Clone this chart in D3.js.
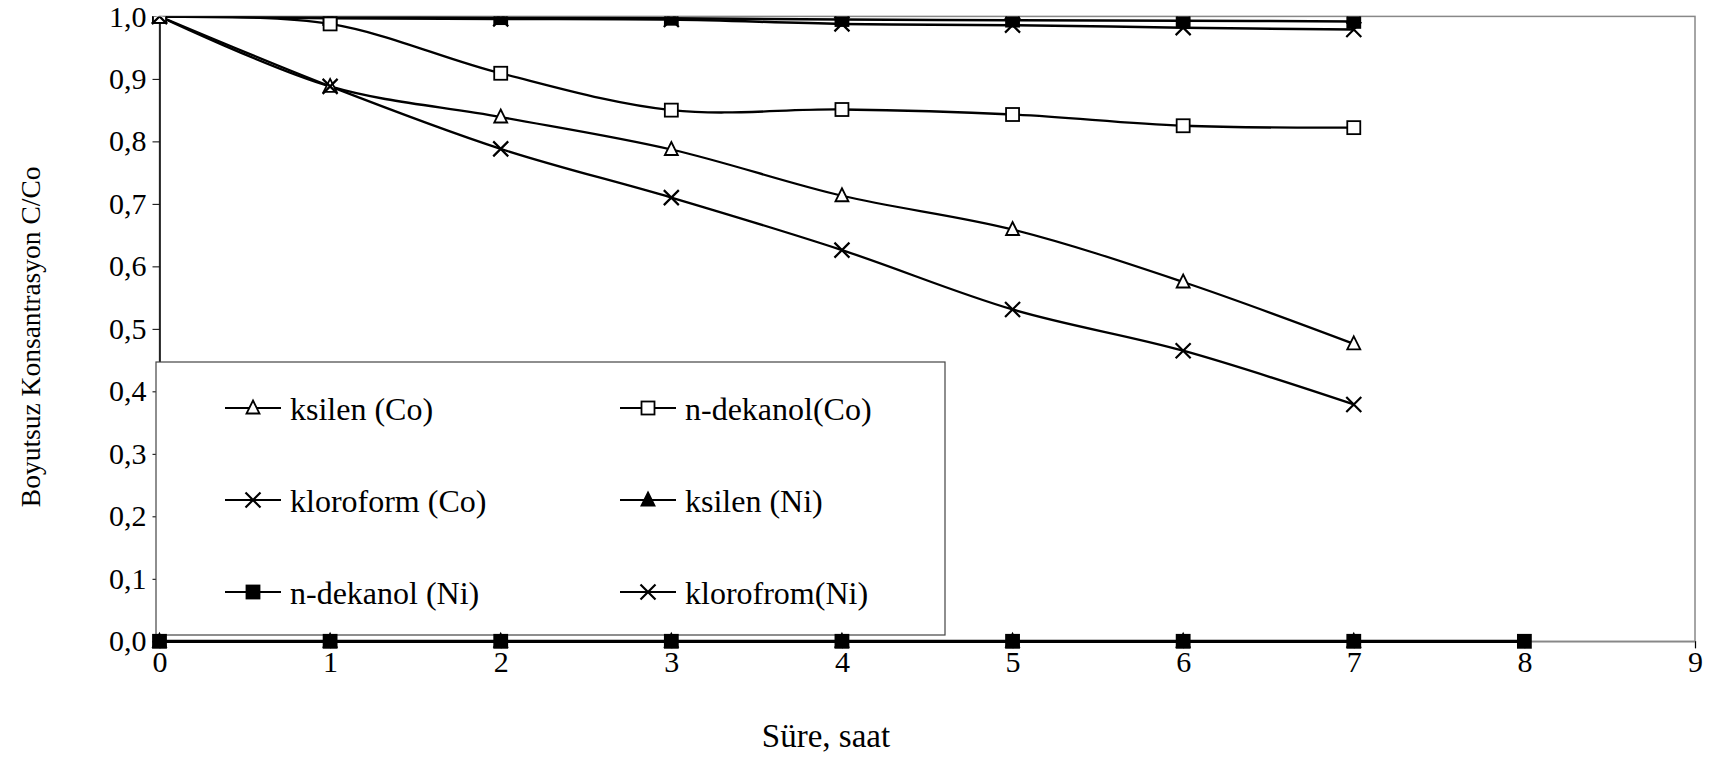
<!DOCTYPE html>
<html><head><meta charset="utf-8">
<script src="https://cdn.jsdelivr.net/npm/d3@7/dist/d3.min.js"></script>
<style>html,body{margin:0;padding:0;background:#fff}svg{display:block}text{font-family:"Liberation Serif","Times New Roman",serif;fill:#000}</style>
</head><body><svg id="c" width="1713" height="757"></svg>
<script>
const hours = [0,1,2,3,4,5,6,7];
const hoursBase = [0,1,2,3,4,5,6,7,8];
const xTicks = [0,1,2,3,4,5,6,7,8,9];
const yTicks = [0,0.1,0.2,0.3,0.4,0.5,0.6,0.7,0.8,0.9,1.0];
const ksilenCo = [1.0,0.888,0.839,0.787,0.713,0.659,0.575,0.476];
const dekanolCo = [1.0,0.988,0.909,0.850,0.851,0.843,0.825,0.822];
const kloroformCo = [1.0,0.888,0.788,0.710,0.626,0.531,0.465,0.379];
const ksilenNi = [0,0,0,0,0,0,0,0];
const dekanolNi = [1.0,0.999,0.998,0.997,0.995,0.994,0.993,0.992];
const klorofromNi = [1.0,0.997,0.996,0.995,0.988,0.986,0.982,0.979];
const baseline = [0,0,0,0,0,0,0,0,0];
const seriesNames = ["ksilen (Co)","n-dekanol(Co)","kloroform (Co)","ksilen (Ni)","n-dekanol (Ni)","klorofrom(Ni)"];

const svg = d3.select("#c");
const x = d3.scaleLinear().domain([0,9]).range([159.5,1695]);
const y = d3.scaleLinear().domain([0,1]).range([641.3,16.4]);
const fmt = d => d3.format(".1f")(d).replace(".", ",");

svg.append("defs").append("clipPath").attr("id","clipTop").append("rect")
  .attr("x",0).attr("y",y(1)).attr("width",1713).attr("height",757-y(1));

svg.append("rect").attr("x",x(0)).attr("y",y(1)).attr("width",x(9)-x(0)).attr("height",y(0)-y(1))
  .attr("fill","none").attr("stroke","#888").attr("stroke-width",1.5);

const yAxis = svg.append("g").attr("transform",`translate(${x(0)},0)`)
  .call(d3.axisLeft(y).tickValues(yTicks).tickFormat(fmt).tickSize(7).tickPadding(6));
yAxis.select(".domain").attr("stroke","#000").attr("stroke-width",1.5);
yAxis.selectAll(".tick line").attr("stroke","#000");
yAxis.selectAll("text").attr("font-size",30);
const xAxis = svg.append("g").attr("transform",`translate(0,${y(0)})`)
  .call(d3.axisBottom(x).tickValues(xTicks).tickFormat(d3.format("d")).tickSize(7).tickPadding(2));
xAxis.select(".domain").attr("stroke","#888").attr("stroke-width",1.5);
xAxis.selectAll("text").attr("font-size",30);

svg.append("text").attr("x",826).attr("y",747).attr("text-anchor","middle").attr("font-size",33).text("Süre, saat");
svg.append("text").attr("transform",`translate(40,${(y(0)+y(1))/2+8}) rotate(-90)`).attr("text-anchor","middle").attr("font-size",27.5).text("Boyutsuz Konsantrasyon C/Co");

function marker(g, type, cx, cy) {
  const s = 6.5;
  if (type === "triOpen" || type === "triFill") {
    g.append("path").attr("d",`M${cx},${cy-s-1}L${cx+s},${cy+s-1}L${cx-s},${cy+s-1}Z`)
      .attr("fill", type==="triFill"?"#000":"#fff").attr("stroke","#000").attr("stroke-width",1.8);
  } else if (type === "sqOpen" || type === "sqFill") {
    g.append("rect").attr("x",cx-s).attr("y",cy-s).attr("width",2*s).attr("height",2*s)
      .attr("fill", type==="sqFill"?"#000":"#fff").attr("stroke","#000").attr("stroke-width",1.8);
  } else if (type === "x") {
    g.append("path").attr("d",`M${cx-s-1},${cy-s-1}L${cx+s+1},${cy+s+1}M${cx+s+1},${cy-s-1}L${cx-s-1},${cy+s+1}`)
      .attr("stroke","#000").attr("stroke-width",2.2);
  }
}

const lg = svg.append("g");
lg.append("rect").attr("x",156).attr("y",362).attr("width",789).attr("height",273)
  .attr("fill","#fff").attr("stroke","#444").attr("stroke-width",1.2);
const legendItems = [
  {name:seriesNames[0], m:"triOpen", col:0, row:0},
  {name:seriesNames[1], m:"sqOpen", col:1, row:0},
  {name:seriesNames[2], m:"x", col:0, row:1},
  {name:seriesNames[3], m:"triFill", col:1, row:1},
  {name:seriesNames[4], m:"sqFill", col:0, row:2},
  {name:seriesNames[5], m:"x", col:1, row:2}
];
legendItems.forEach(it => {
  const lx = it.col===0 ? 225 : 620;
  const ly = [408,500,592][it.row];
  lg.append("line").attr("x1",lx).attr("x2",lx+56).attr("y1",ly).attr("y2",ly).attr("stroke","#000").attr("stroke-width",2);
  marker(lg, it.m, lx+28, ly);
  lg.append("text").attr("x",lx+65).attr("y",ly+11.5).attr("font-size",32).text(it.name);
});

const line = d3.line().x(d=>x(d[0])).y(d=>y(d[1])).curve(d3.curveCatmullRom.alpha(0.5));
const series = [
  {v:baseline, xs:hoursBase, m:"sqFill", w:3.2},
  {v:ksilenNi, xs:hours, m:"triFill", w:2.5},
  {v:dekanolNi, xs:hours, m:"sqFill", w:2.5},
  {v:klorofromNi, xs:hours, m:"x", w:2.5},
  {v:ksilenCo, xs:hours, m:"triOpen", w:2.3},
  {v:dekanolCo, xs:hours, m:"sqOpen", w:2.3},
  {v:kloroformCo, xs:hours, m:"x", w:2.3}
];
const plot = svg.append("g").attr("clip-path","url(#clipTop)");
series.forEach(s => {
  const pts = s.xs.map((h,i)=>[h,s.v[i]]);
  plot.append("path").attr("d",line(pts)).attr("fill","none").attr("stroke","#000").attr("stroke-width",s.w);
});
series.forEach(s => {
  const g = plot.append("g");
  s.xs.forEach((h,i)=> marker(g, s.m, x(h), y(s.v[i])));
});
</script></body></html>
